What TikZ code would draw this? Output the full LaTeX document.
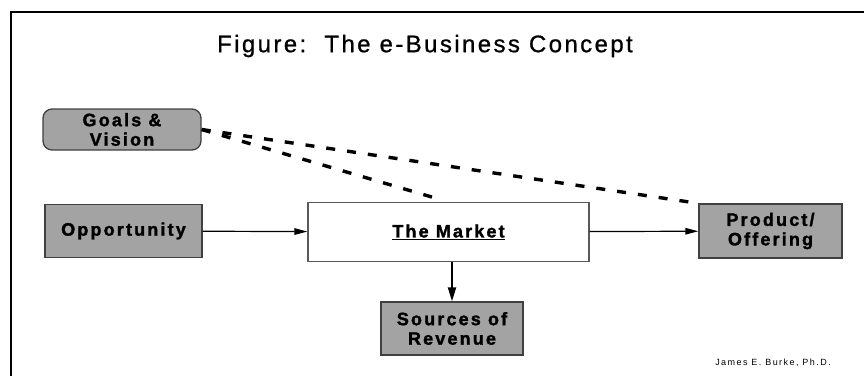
\documentclass[tikz,border=0pt]{standalone}
\usepackage{fontspec}
\setmainfont{Liberation Sans}
\usepackage{tikz}
\usetikzlibrary{positioning,arrows.meta}
\tikzset{%
  every block/.style={
    draw=black!75,
    line width=1.3pt,
    fill=black!36,
    inner sep=0pt,
    align=center,
    font=\addfontfeature{LetterSpace=12,FakeBold=1.6}\fontsize{18}{19.5}\selectfont\bfseries
  },
  block goals/.style={rounded corners=9pt},
  block market/.style={fill=white, draw=black!65, line width=1.2pt},
  goal link/.style={
    line width=3.4pt,
    dash pattern=on 9pt off 12pt
  },
}

\begin{document}
\begin{tikzpicture}[x=1pt, y=-1pt, >={Triangle[length=13pt, width=6.5pt]}]
        \useasboundingbox (0,0) rectangle (864,376);

        % frame
        \draw [line width=2.4pt] (11,376) -- (11,12) -- (864,12);

        \node [font=\addfontfeature{LetterSpace=10,FakeBold=0.8}\fontsize{24}{26}\selectfont] (title) at (425,46) {Figure:\ \ The e-Business Concept};

        \foreach \n/\x/\y/\w/\h/\t in {
            goals/122/129.5/158/41/{Goals \&\\Vision},
            opp/123.5/231/157/53/Opportunity,
            market/448.5/232/281/59/\underline{The Market},
            product/770.5/231/143/54/{Product/\\Offering},
            sources/452/328.5/142/53/{Sources of\\Revenue}}
          \node [every block/.try, block \n/.try, minimum width=\w, minimum height=\h] (\n) at (\x,\y) {\t};

        \node [font=\addfontfeature{LetterSpace=16}\fontsize{9}{10}\selectfont] (credit) at (773,363) {James E. Burke, Ph.D.};

        \foreach \from/\to in {opp/market, market/product}
          \draw [->, line width=1.2pt] (\from) -- (\to);

        \draw [->, line width=2pt, >={Triangle[length=14pt, width=8pt]}] (market.south -| sources.north) -- (sources.north);

        \foreach \to/\cut in {market.north/16pt, product.north west/10pt}
          \draw [goal link, shorten >=\cut] (goals.east) -- (\to);
\end{tikzpicture}
\end{document}
